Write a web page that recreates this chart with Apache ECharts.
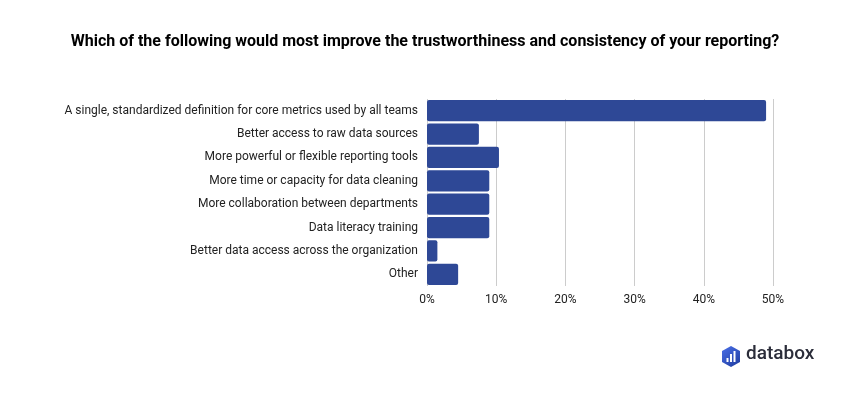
<!DOCTYPE html>
<html><head><meta charset="utf-8">
<script src="https://cdn.jsdelivr.net/npm/echarts@6/dist/echarts.min.js"></script>
<style>html,body{margin:0;padding:0;background:#fff}#c{width:850px;height:400px}</style>
</head><body><div id="c"></div>
<script>
const titleText = 'Which of the following would most improve the trustworthiness and consistency of your reporting?';
const categories = [
  'A single, standardized definition for core metrics used by all teams',
  'Better access to raw data sources',
  'More powerful or flexible reporting tools',
  'More time or capacity for data cleaning',
  'More collaboration between departments',
  'Data literacy training',
  'Better data access across the organization',
  'Other'
];
const values = [49.0, 7.5, 10.4, 9.0, 9.0, 9.0, 1.5, 4.5];
const xTicks = [0, 10, 20, 30, 40, 50];

const chart = echarts.init(document.getElementById('c'));
chart.setOption({
  animation: false,
  title: {
    text: titleText, left: 'center', top: 29,
    textStyle: { fontFamily: 'Roboto', fontWeight: 'bold', fontSize: 16, color: '#000' }
  },
  grid: { left: 427, right: 77, top: 99, bottom: 114 },
  xAxis: {
    type: 'value', min: xTicks[0], max: xTicks[xTicks.length - 1], interval: 10,
    axisLine: { show: false }, axisTick: { show: false },
    splitLine: { lineStyle: { color: '#cccccc', width: 1 } },
    axisLabel: { formatter: v => v + '%', fontFamily: 'Roboto', fontSize: 12, color: '#222', margin: 8 }
  },
  yAxis: {
    type: 'category', inverse: true, data: categories,
    axisLine: { show: false }, axisTick: { show: false },
    axisLabel: { fontFamily: 'Roboto', fontSize: 12, color: '#222', margin: 9 }
  },
  series: [{
    type: 'bar', data: values, barCategoryGap: '9%',
    itemStyle: { color: '#2E4896', borderRadius: 2 }
  }],
  graphic: [
    { type: 'polygon', shape: { points: [[731,346],[740,351],[740,362],[731,367],[722,362],[722,351]] },
      style: { fill: new echarts.graphic.LinearGradient(0,0,1,1,[{offset:0,color:'#4a6fe8'},{offset:1,color:'#1f3c9e'}]) } },
    { type: 'rect', shape: { x: 726.5, y: 358, width: 2, height: 4 }, style: { fill: '#fff' } },
    { type: 'rect', shape: { x: 730, y: 354, width: 2, height: 8 }, style: { fill: '#fff' } },
    { type: 'rect', shape: { x: 733.5, y: 351, width: 2, height: 11 }, style: { fill: '#fff' } },
    { type: 'text', left: 746, top: 345,
      style: { text: 'databox', fontFamily: 'Roboto', fontSize: 19, fontWeight: 500, fill: '#2b2d3a' } }
  ]
});
</script></body></html>
